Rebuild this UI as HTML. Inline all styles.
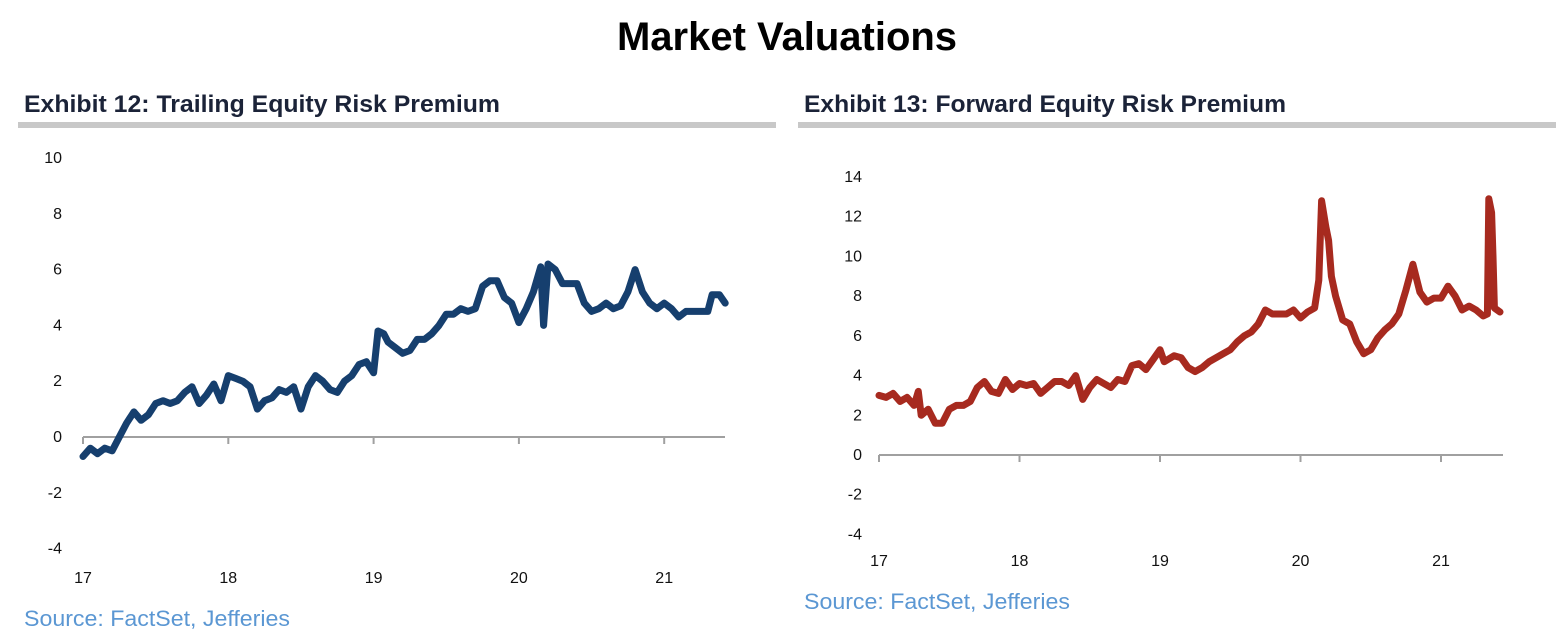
<!DOCTYPE html>
<html><head><meta charset="utf-8"><style>
body{margin:0;width:1563px;height:635px;background:#fff;overflow:hidden;font-family:"Liberation Sans",sans-serif}
svg{position:absolute;left:0;top:0}
</style></head><body>
<svg id="s" width="1563" height="635">
<text x="787" y="50" text-anchor="middle" font-size="40" font-weight="bold" fill="#000">Market Valuations</text>
<text x="24" y="112" font-size="24.5" font-weight="bold" fill="#1b2338" textLength="476" lengthAdjust="spacingAndGlyphs">Exhibit 12: Trailing Equity Risk Premium</text>
<rect x="18" y="122" width="758" height="6" fill="#c8c8c8"/>
<text x="804" y="112" font-size="24.5" font-weight="bold" fill="#1b2338" textLength="482" lengthAdjust="spacingAndGlyphs">Exhibit 13: Forward Equity Risk Premium</text>
<rect x="798" y="122" width="758" height="6" fill="#c8c8c8"/>
<text x="24" y="626" font-size="22" fill="#5b97d3" textLength="266" lengthAdjust="spacingAndGlyphs">Source: FactSet, Jefferies</text>
<text x="804" y="609" font-size="22" fill="#5b97d3" textLength="266" lengthAdjust="spacingAndGlyphs">Source: FactSet, Jefferies</text>
<g id="c1"></g>
<g id="c2"></g>
</svg>
<script>
const yTicks1=[10,8,6,4,2,0,-2,-4];
const yTicks2=[14,12,10,8,6,4,2,0,-2,-4];
const xTicks=[17,18,19,20,21];
const xLabels=["17","18","19","20","21"];
const trailDates=[17.0,17.05,17.1,17.15,17.2,17.25,17.3,17.35,17.4,17.45,17.5,17.55,17.6,17.65,17.7,17.75,17.8,17.85,17.9,17.95,18.0,18.05,18.1,18.15,18.2,18.25,18.3,18.35,18.4,18.45,18.5,18.55,18.6,18.65,18.7,18.75,18.8,18.85,18.9,18.95,19.0,19.03,19.07,19.1,19.15,19.2,19.25,19.3,19.35,19.4,19.45,19.5,19.55,19.6,19.65,19.7,19.75,19.8,19.85,19.9,19.95,20.0,20.05,20.1,20.15,20.17,20.2,20.25,20.3,20.35,20.4,20.45,20.5,20.55,20.6,20.65,20.7,20.75,20.8,20.85,20.9,20.95,21.0,21.05,21.1,21.15,21.2,21.25,21.3,21.33,21.38,21.42];
const trailValues=[-0.7,-0.4,-0.6,-0.4,-0.5,0,0.5,0.9,0.6,0.8,1.2,1.3,1.2,1.3,1.6,1.8,1.2,1.5,1.9,1.3,2.2,2.1,2.0,1.8,1.0,1.3,1.4,1.7,1.6,1.8,1.0,1.8,2.2,2.0,1.7,1.6,2.0,2.2,2.6,2.7,2.3,3.8,3.7,3.4,3.2,3.0,3.1,3.5,3.5,3.7,4.0,4.4,4.4,4.6,4.5,4.6,5.4,5.6,5.6,5.0,4.8,4.1,4.6,5.2,6.1,4.0,6.2,6.0,5.5,5.5,5.5,4.8,4.5,4.6,4.8,4.6,4.7,5.2,6.0,5.2,4.8,4.6,4.8,4.6,4.3,4.5,4.5,4.5,4.5,5.1,5.1,4.8];
const fwdDates=[17.0,17.05,17.1,17.15,17.2,17.25,17.28,17.3,17.35,17.4,17.45,17.5,17.55,17.6,17.65,17.7,17.75,17.8,17.85,17.9,17.95,18.0,18.05,18.1,18.15,18.2,18.25,18.3,18.35,18.4,18.45,18.5,18.55,18.6,18.65,18.7,18.75,18.8,18.85,18.9,18.95,19.0,19.03,19.1,19.15,19.2,19.25,19.3,19.35,19.4,19.45,19.5,19.55,19.6,19.65,19.7,19.75,19.8,19.85,19.9,19.95,20.0,20.05,20.1,20.13,20.15,20.18,20.2,20.22,20.25,20.3,20.35,20.4,20.45,20.5,20.55,20.6,20.65,20.7,20.75,20.8,20.85,20.9,20.95,21.0,21.05,21.1,21.15,21.2,21.25,21.3,21.33,21.34,21.36,21.37,21.38,21.42];
const fwdValues=[3.0,2.9,3.1,2.7,2.9,2.5,3.2,2.0,2.3,1.6,1.6,2.3,2.5,2.5,2.7,3.4,3.7,3.2,3.1,3.8,3.3,3.6,3.5,3.6,3.1,3.4,3.7,3.7,3.5,4.0,2.8,3.4,3.8,3.6,3.4,3.8,3.7,4.5,4.6,4.3,4.8,5.3,4.7,5.0,4.9,4.4,4.2,4.4,4.7,4.9,5.1,5.3,5.7,6.0,6.2,6.6,7.3,7.1,7.1,7.1,7.3,6.9,7.2,7.4,8.8,12.8,11.5,10.8,9.0,8.0,6.8,6.6,5.7,5.1,5.3,5.9,6.3,6.6,7.1,8.3,9.6,8.2,7.7,7.9,7.9,8.5,8.0,7.3,7.5,7.3,7.0,7.1,12.9,12.2,10.0,7.4,7.2];
const NS="http://www.w3.org/2000/svg";
function mk(p,t,a){const e=document.createElementNS(NS,t);for(const k in a)e.setAttribute(k,a[k]);p.appendChild(e);return e;}
function draw(g,o,yT,dates,vals,color,pre){
  const xS=v=>o.x0+(v-17)*o.xw, yS=v=>o.y0-v*o.yu;
  yT.forEach(v=>{const t=mk(g,'text',{x:o.lx,y:yS(v)+5,'text-anchor':'end','font-size':16,fill:'#111'});t.textContent=v;
    
    });
  const ax=mk(g,'line',{x1:xS(17),x2:o.xEnd,y1:yS(0),y2:yS(0),stroke:'#a0a0a0','stroke-width':2});
  
  
  xTicks.forEach((v,i)=>{const tk=mk(g,'line',{x1:xS(v),x2:xS(v),y1:yS(0),y2:yS(0)+7,stroke:'#a0a0a0','stroke-width':2});
    
    
    const t=mk(g,'text',{x:xS(v),y:o.xly,'text-anchor':'middle','font-size':16,fill:'#111'});t.textContent=xLabels[i];
    
    });
  const d=dates.map((v,i)=>(i?'L':'M')+xS(v).toFixed(1)+','+yS(vals[i]).toFixed(1)).join('');
  const p=mk(g,'path',{d:d,fill:'none',stroke:color,'stroke-width':7,'stroke-linejoin':'round','stroke-linecap':'round'});
  
  
}
draw(document.getElementById('c1'),{x0:83,xw:145.3,y0:437,yu:27.9,lx:62,xly:583,xEnd:725},yTicks1,trailDates,trailValues,'#163f6e','trailing-');
draw(document.getElementById('c2'),{x0:879,xw:140.5,y0:455,yu:19.86,lx:862,xly:566,xEnd:1503},yTicks2,fwdDates,fwdValues,'#a72a1f','forward-');
</script>
</body></html>
